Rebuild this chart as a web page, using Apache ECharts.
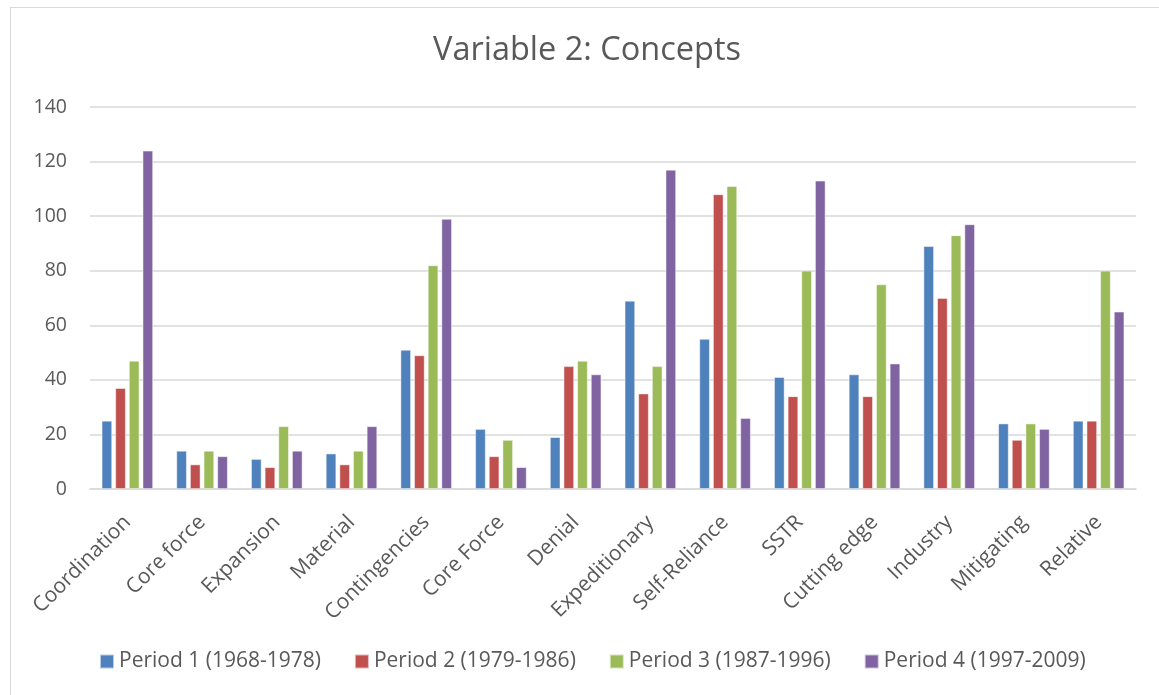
<!DOCTYPE html>
<html>
<head>
<meta charset="utf-8">
<script src="https://cdn.jsdelivr.net/npm/echarts@6/dist/echarts.min.js"></script>
<style>
	html, body { margin: 0; padding: 0; background: #fff; }
	#marco {
		position: absolute; left: 10px; top: 7px; width: 1170px; height: 720px;
		border: 1.5px solid #d9d9d9; box-sizing: border-box;
	}
	#chart { position: absolute; left: 0; top: 0; width: 1159px; height: 695px; }
</style>
</head>
<body>
<div id="marco"></div>
<div id="chart"></div>
<script>
// Categorías y valores por período
const conceptos = ['Coordination', 'Core force', 'Expansion', 'Material', 'Contingencies', 'Core Force', 'Denial',
	'Expeditionary', 'Self-Reliance', 'SSTR', 'Cutting edge', 'Industry', 'Mitigating', 'Relative']
const periodo1 = [25, 14, 11, 13, 51, 22, 19, 69, 55, 41, 42, 89, 24, 25]
const periodo2 = [37, 9, 8, 9, 49, 12, 45, 35, 108, 34, 34, 70, 18, 25]
const periodo3 = [47, 14, 23, 14, 82, 18, 47, 45, 111, 80, 75, 93, 24, 80]
const periodo4 = [124, 12, 14, 23, 99, 8, 42, 117, 26, 113, 46, 97, 22, 65]
const nombres = ['Period 1 (1968-1978)', 'Period 2 (1979-1986)', 'Period 3 (1987-1996)', 'Period 4 (1997-2009)']
const colores = ['#4f81bd', '#c0504d', '#9bbb59', '#8064a2']

const fuente = '"Open Sans", sans-serif'
const chart = echarts.init(document.getElementById('chart'))

const series = [periodo1, periodo2, periodo3, periodo4].map((datos, i) => ({
	name: nombres[i],
	type: 'bar',
	data: datos,
	barWidth: 10.5,
	barGap: '30%',
	itemStyle: { color: colores[i], borderColor: 'rgba(255,255,255,0.6)', borderWidth: 0.8 },
}))

chart.setOption({
	animation: false,
	color: colores,
	textStyle: { fontFamily: fuente },
	title: {
		text: 'Variable 2: Concepts',
		left: 428,
		top: 29,
		textStyle: { fontFamily: fuente, fontSize: 32.5, fontWeight: 'normal', color: '#595959' },
	},
	grid: { left: 90, right: 23, top: 107, bottom: 206 },
	xAxis: {
		type: 'category',
		data: conceptos,
		axisLine: { lineStyle: { color: '#d9d9d9', width: 1.5 } },
		axisTick: { show: false },
		axisLabel: {
			rotate: 45,
			interval: 0,
			margin: 30,
			fontSize: 21,
			color: '#595959',
			fontFamily: fuente,
		},
	},
	yAxis: {
		type: 'value',
		min: 0,
		max: 140,
		interval: 20,
		axisLine: { show: false },
		axisTick: { show: false },
		axisLabel: { fontSize: 19.5, color: '#595959', margin: 23, fontFamily: fuente },
		splitLine: { lineStyle: { color: '#d9d9d9', width: 1.5 } },
	},
	legend: {
		bottom: 18,
		left: 94,
		itemWidth: 14,
		itemHeight: 14,
		itemGap: 33,
		icon: 'rect',
		textStyle: { fontSize: 21, color: '#595959', fontFamily: fuente },
	},
	series,
})
</script>
</body>
</html>
